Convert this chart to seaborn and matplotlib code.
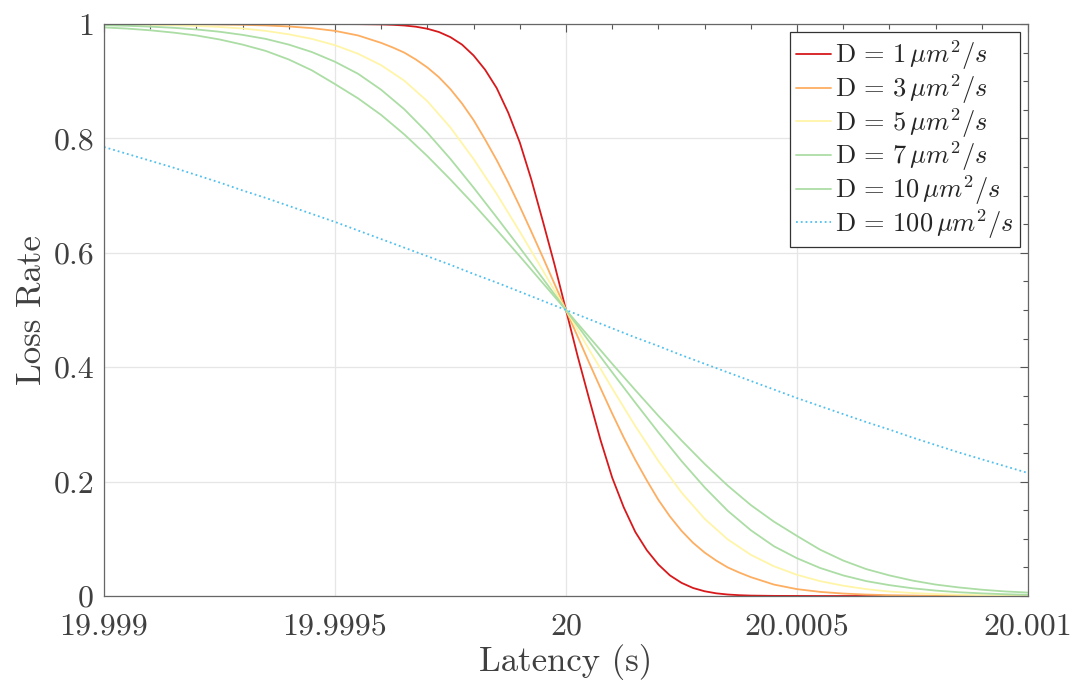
import numpy as np
import pandas as pd
import matplotlib
matplotlib.use("Agg")
import matplotlib.pyplot as plt
import seaborn as sns
from matplotlib.ticker import MultipleLocator

# Latency grids (s): 0.00005 s steps, and a finer one for the steep curves
latency = np.linspace(19.999, 20.001, 41)
latency_fine = np.concatenate([np.linspace(19.999, 19.99955, 12),
                               np.linspace(19.9996, 20.0004, 33),
                               np.linspace(20.00045, 20.001, 12)])

# Loss rate for each diffusion coefficient
loss_d1 = [1.0, 1.0, 1.0, 1.0, 1.0, 1.0, 1.0, 1.0, 1.0, 1.0, 0.9999, 0.9998,
           0.9993, 0.9986, 0.9974, 0.9953, 0.9917, 0.986, 0.977, 0.964, 0.945,
           0.92, 0.888, 0.845, 0.793, 0.728, 0.655, 0.58, 0.5,
           0.42, 0.345, 0.272, 0.207, 0.155, 0.112, 0.080, 0.055,
           0.036, 0.023, 0.014, 0.0083, 0.0047, 0.0026, 0.0014, 0.0007,
           0.0002, 0.0001, 0.0, 0.0, 0.0, 0.0, 0.0, 0.0, 0.0, 0.0, 0.0, 0.0]
loss_d3 = [1.0, 0.9999, 0.9999, 0.9998, 0.9996, 0.9992, 0.9986, 0.9975, 0.9957, 0.9928, 0.988, 0.98,
           0.967, 0.959, 0.95, 0.938, 0.924, 0.907, 0.886, 0.861, 0.832,
           0.798, 0.762, 0.723, 0.681, 0.637, 0.592, 0.546, 0.5,
           0.454, 0.408, 0.363, 0.319, 0.277, 0.238, 0.202, 0.168,
           0.139, 0.114, 0.093, 0.076, 0.062, 0.05, 0.041, 0.033,
           0.02, 0.012, 0.0072, 0.0043, 0.0025, 0.0014, 0.0008, 0.0004, 0.0002, 0.0001, 0.0001, 0.0]
loss_d5 = [0.9994, 0.9991, 0.9986, 0.9978, 0.9966, 0.9948, 0.9922, 0.988, 0.982, 0.974,
           0.963, 0.948, 0.928, 0.901, 0.865, 0.819, 0.764, 0.703, 0.637, 0.569,
           0.5,
           0.431, 0.363, 0.297, 0.236, 0.181, 0.135, 0.099, 0.072, 0.052, 0.037,
           0.026, 0.018, 0.012, 0.0078, 0.0052, 0.0034, 0.0022, 0.0014, 0.0009, 0.0006]
loss_d7 = [0.9979, 0.9969, 0.9954, 0.9934, 0.9905, 0.9865, 0.981, 0.974, 0.964, 0.951,
           0.934, 0.913, 0.885, 0.851, 0.81, 0.764, 0.714, 0.662, 0.609, 0.555,
           0.5,
           0.445, 0.391, 0.338, 0.286, 0.236, 0.19, 0.149, 0.115, 0.087, 0.066,
           0.049, 0.036, 0.026, 0.019, 0.0135, 0.0095, 0.0066, 0.0046, 0.0031, 0.0021]
loss_d10 = [0.994, 0.992, 0.989, 0.985, 0.98, 0.973, 0.964, 0.953, 0.938, 0.919,
            0.895, 0.87, 0.841, 0.807, 0.769, 0.728, 0.685, 0.64, 0.594, 0.547,
            0.5,
            0.453, 0.406, 0.36, 0.315, 0.272, 0.231, 0.193, 0.159, 0.13, 0.105,
            0.081, 0.062, 0.047, 0.036, 0.027, 0.02, 0.015, 0.011, 0.008, 0.006]
loss_d100 = [0.785, 0.773, 0.761, 0.749, 0.736, 0.723, 0.709, 0.696, 0.682, 0.668,
             0.654, 0.639, 0.624, 0.609, 0.594, 0.579, 0.563, 0.548, 0.532, 0.516,
             0.5,
             0.484, 0.468, 0.452, 0.437, 0.421, 0.406, 0.391, 0.376, 0.361, 0.346,
             0.332, 0.318, 0.304, 0.291, 0.277, 0.264, 0.251, 0.239, 0.227, 0.215]

d_values = ["1", "3", "5", "7", "10", "100"]
series = [loss_d1, loss_d3, loss_d5, loss_d7, loss_d10, loss_d100]
grids = [latency_fine, latency_fine, latency, latency, latency, latency]
colors = ["#d7191c", "#fdae61", "#fff5a8", "#abdda4", "#abdda4", "#4fc0ee"]
styles = ["-", "-", "-", "-", "-", ":"]

xtick_vals = [19.999, 19.9995, 20.0, 20.0005, 20.001]
xtick_labels = ["19.999", "19.9995", "20", "20.0005", "20.001"]
ytick_vals = [0, 0.2, 0.4, 0.6, 0.8, 1]
ytick_labels = ["0", "0.2", "0.4", "0.6", "0.8", "1"]

sns.set_theme(style="whitegrid")
plt.rcParams["font.family"] = ["cmr10", "DejaVu Serif"]
plt.rcParams["mathtext.fontset"] = "cm"
plt.rcParams["axes.unicode_minus"] = False

fig = plt.figure(figsize=(10.75, 6.82), dpi=100)
ax = fig.add_axes([0.0967, 0.1261, 0.8596, 0.8387])

for d, x, vals, c, ls in zip(d_values, grids, series, colors, styles):
    df = pd.DataFrame({"Latency": x, "Loss": vals})
    sns.lineplot(data=df, x="Latency", y="Loss", ax=ax, color=c, linestyle=ls,
                 linewidth=1.3, label=r"$\mathrm{D}\,=\,%s\,\mu m^2/s$" % d)

ax.set_xlim(19.999, 20.001)
ax.set_ylim(0, 1)
ax.set_xticks(xtick_vals)
ax.set_xticklabels(xtick_labels)
ax.set_yticks(ytick_vals)
ax.set_yticklabels(ytick_labels)
ax.xaxis.set_minor_locator(MultipleLocator(0.0001))
ax.yaxis.set_minor_locator(MultipleLocator(0.05))

text_color = "#404040"
ax.tick_params(which="both", direction="in", top=True, right=True,
               colors="#555555", labelcolor=text_color, labelsize=23)
ax.tick_params(which="major", length=6, width=0.8)
ax.tick_params(which="minor", length=3.5, width=0.8)
ax.tick_params(axis="x", which="major", pad=12)
ax.tick_params(axis="y", which="major", pad=7)

ax.grid(True, which="major", color="#e6e6e6", linewidth=0.9)
ax.grid(False, which="minor")
for sp in ax.spines.values():
    sp.set_visible(True)
    sp.set_color("#666666")
    sp.set_linewidth(0.9)

ax.set_xlabel("Latency (s)", fontsize=25, color=text_color, labelpad=3)
ax.set_ylabel("Loss Rate", fontsize=25, color=text_color, labelpad=4)

leg = ax.legend(loc="upper right", fontsize=19, frameon=True, fancybox=False,
                framealpha=1, edgecolor="#333333", handlelength=1.3,
                handletextpad=0.15, labelspacing=0.0, borderpad=0.25,
                borderaxespad=0.3)
leg.get_frame().set_linewidth(0.9)
for t in leg.get_texts():
    t.set_color("#262626")

fig.savefig("out.png", dpi=100)
